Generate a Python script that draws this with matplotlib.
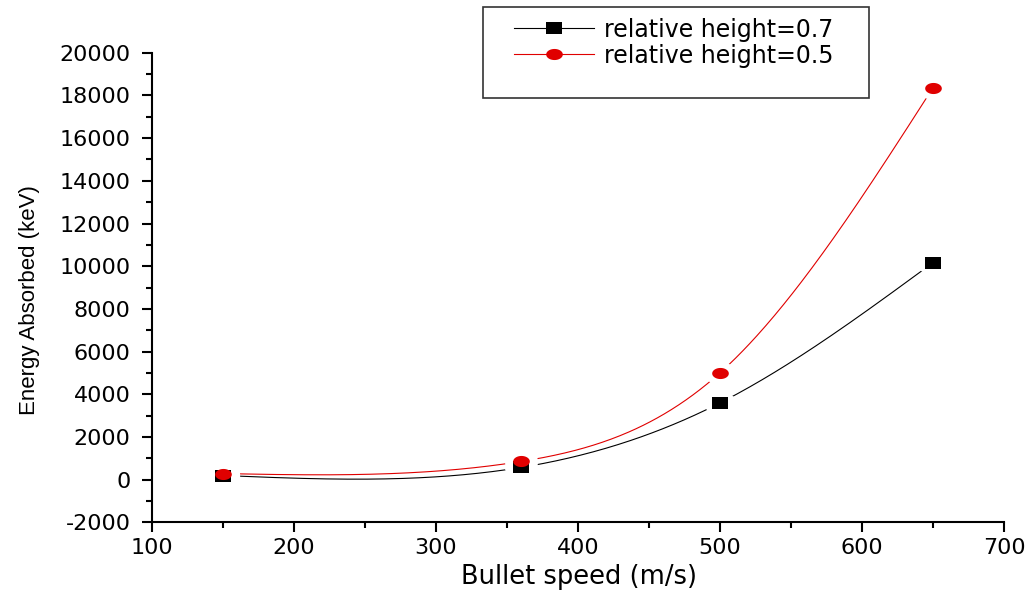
import numpy as np
import matplotlib
matplotlib.use("Agg")
import matplotlib.pyplot as plt
from matplotlib.lines import Line2D
from matplotlib.patches import Rectangle
from matplotlib.ticker import MultipleLocator

# bullet speed (m/s)
speed = [150, 360, 500, 650]
# energy absorbed (keV)
energy_h07 = [200, 580, 3600, 10170]
energy_h05 = [290, 860, 5010, 18360]

labels = ["relative height=0.7", "relative height=0.5"]
RED = "#e00000"


def natural_spline(x, y, xs):
    # plain natural cubic spline, like Origin's "Spline" connect
    x = np.asarray(x, float)
    y = np.asarray(y, float)
    n = len(x)
    h = np.diff(x)
    A = np.zeros((n, n))
    r = np.zeros(n)
    A[0, 0] = A[-1, -1] = 1
    for i in range(1, n - 1):
        A[i, i - 1] = h[i - 1]
        A[i, i] = 2 * (h[i - 1] + h[i])
        A[i, i + 1] = h[i]
        r[i] = 6 * ((y[i + 1] - y[i]) / h[i] - (y[i] - y[i - 1]) / h[i - 1])
    M = np.linalg.solve(A, r)
    k = np.clip(np.searchsorted(x, xs) - 1, 0, n - 2)
    t0 = xs - x[k]
    t1 = x[k + 1] - xs
    hk = h[k]
    return (M[k] * t1 ** 3 / (6 * hk) + M[k + 1] * t0 ** 3 / (6 * hk)
            + (y[k] / hk - M[k] * hk / 6) * t1
            + (y[k + 1] / hk - M[k + 1] * hk / 6) * t0)


def wide_marker(kind):
    # markers in the original come out ~1.5x wider than tall
    if kind == "s":
        return [(-1.5, -1), (1.5, -1), (1.5, 1), (-1.5, 1), (-1.5, -1)]
    th = np.linspace(0, 2 * np.pi, 41)
    return list(zip(1.5 * np.cos(th), np.sin(th)))


SQ = wide_marker("s")
EL = wide_marker("o")

plt.rcParams["font.family"] = ["DejaVu Sans"]

fig = plt.figure(figsize=(10.28, 5.92), dpi=100)
ax = fig.add_axes([0.1479, 0.1174, 0.8288, 0.7936])

xs = np.linspace(min(speed), max(speed), 400)
for ys, col in [(energy_h07, "black"), (energy_h05, RED)]:
    ax.plot(xs, natural_spline(speed, ys, xs), color=col, lw=0.8, zorder=2)

# white halos so the lines stop short of the markers
for ys in [energy_h07, energy_h05]:
    ax.plot(speed, ys, ls="none", marker=EL, ms=24, color="white",
            markeredgewidth=0, zorder=3)
ax.plot(speed, energy_h07, ls="none", marker=SQ, ms=12, color="black",
        markeredgewidth=0, zorder=4)
ax.plot(speed, energy_h05, ls="none", marker=EL, ms=12, color=RED,
        markeredgewidth=0, zorder=5)

ax.set_xlim(100, 700)
ax.set_ylim(-2000, 20000)
ax.xaxis.set_major_locator(MultipleLocator(100))
ax.xaxis.set_minor_locator(MultipleLocator(50))
ax.yaxis.set_major_locator(MultipleLocator(2000))
ax.yaxis.set_minor_locator(MultipleLocator(1000))
ax.yaxis.set_major_formatter(matplotlib.ticker.FuncFormatter(lambda v, p: "%d" % v))

for s in ["top", "right"]:
    ax.spines[s].set_visible(False)
for s in ["left", "bottom"]:
    ax.spines[s].set_linewidth(1.5)

ax.tick_params(which="major", direction="out", length=7.5, width=1.5,
               labelsize=16)
ax.tick_params(which="minor", direction="out", length=4.5, width=1.5)
ax.tick_params(axis="x", which="major", pad=4)
ax.tick_params(axis="y", which="major", pad=8)

ax.set_xlabel("Bullet speed (m/s)", fontsize=18.5)
ax.xaxis.set_label_coords(0.501, -0.088)
ax.set_ylabel("Energy Absorbed (keV)", fontsize=16,
              family=["Liberation Sans", "DejaVu Sans"])
ax.yaxis.set_label_coords(-0.1315, 0.473)

# legend box (sticks out above the axes, as in the original)
fig.patches.append(Rectangle((483 / 1028, 1 - 97.7 / 592), 386 / 1028, 90.2 / 592,
                             transform=fig.transFigure, fill=False,
                             edgecolor="#333333", lw=1.2))
handles = [
    Line2D([], [], color="black", lw=0.8, marker=SQ, ms=12, markeredgewidth=0),
    Line2D([], [], color=RED, lw=0.8, marker=EL, ms=12, markeredgewidth=0),
]
fig.legend(handles, labels, loc="upper left", bbox_to_anchor=(0.5, 0.970),
           frameon=False, fontsize=17, handlelength=3.4, handletextpad=0.42,
           labelspacing=0.08, borderpad=0, borderaxespad=0)

fig.savefig("out.png", dpi=100)
